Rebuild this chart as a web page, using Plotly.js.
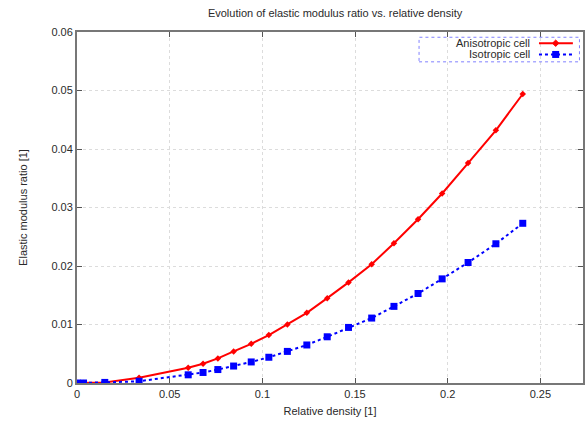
<!DOCTYPE html>
<html>
<head>
<meta charset="utf-8">
<script src="https://cdn.plot.ly/plotly-3.0.1.min.js"></script>
<style>html,body{margin:0;padding:0;background:#fff;}#chart{width:587px;height:421px;}</style>
</head>
<body>
<div id="chart"></div>
<script>
const relativeDensity = [0, 0.0035, 0.015, 0.0335, 0.06, 0.068, 0.076, 0.0845, 0.094, 0.1035, 0.1135, 0.124, 0.135, 0.1465, 0.159, 0.171, 0.184, 0.197, 0.211, 0.226, 0.2405];
const anisotropic = [0, 0, 0.0001, 0.0009, 0.0026, 0.0033, 0.0042, 0.0054, 0.0067, 0.0082, 0.0100, 0.0120, 0.0145, 0.0172, 0.0203, 0.0239, 0.0280, 0.0324, 0.0376, 0.0432, 0.0494];
const isotropic = [0, 0, 0.0001, 0.0003, 0.0014, 0.0018, 0.0023, 0.0029, 0.0036, 0.0044, 0.0054, 0.0065, 0.0079, 0.0095, 0.0111, 0.0131, 0.0153, 0.0178, 0.0206, 0.0238, 0.0273];
const seriesNames = ["Anisotropic cell", "Isotropic cell"];
const xTicks = [0, 0.05, 0.1, 0.15, 0.2, 0.25];
const xTickLabels = ["0", "0.05", "0.1", "0.15", "0.2", "0.25"];
const yTicks = [0, 0.01, 0.02, 0.03, 0.04, 0.05, 0.06];
const yTickLabels = ["0", "0.01", "0.02", "0.03", "0.04", "0.05", "0.06"];

const FONT = "Liberation Sans, Arial, sans-serif";
const TXT = "#2a2a2a";
const traces = [
  {x: relativeDensity, y: anisotropic, name: seriesNames[0], mode: "lines+markers",
   line: {color: "#ff0000", width: 2},
   marker: {symbol: "diamond", size: 5, color: "#ff0000"}},
  {x: relativeDensity, y: isotropic, name: seriesNames[1], mode: "lines+markers",
   line: {color: "#0000ff", width: 2, dash: "dot"},
   marker: {symbol: "square", size: 7, color: "#0000ff"}}
];

const axisCommon = {
  showline: true, linecolor: "#777", linewidth: 2, mirror: "ticks",
  ticks: "inside", ticklen: 5, tickwidth: 1, tickcolor: "#555",
  showgrid: true, gridcolor: "#dcdcdc", griddash: "dot", gridwidth: 1,
  zeroline: false, tickfont: {family: FONT, size: 11, color: TXT}
};

// gnuplot-style key: text on the left, sample on the right
const keyX0 = 0.676, keyX1 = 0.993, keyY0 = 0.915, keyY1 = 0.985;
const rowY = [0.968, 0.936];
const sampleX0 = 0.913, sampleX1 = 0.980, markX = 0.946, textX = 0.899;
const sqW = 3.5 / 506, sqH = 3.5 / 351, dmW = 3.2 / 506, dmH = 3.2 / 351;

const layout = {
  width: 587, height: 421,
  margin: {l: 77, r: 4, t: 32, b: 38},
  paper_bgcolor: "#fff", plot_bgcolor: "#fff",
  showlegend: false,
  font: {family: FONT, size: 11, color: TXT},
  title: {text: "Evolution of elastic modulus ratio vs. relative density",
          font: {family: FONT, size: 11, color: TXT},
          xref: "paper", x: 0.51, xanchor: "center",
          yref: "container", y: 1 - 13/421, yanchor: "middle"},
  xaxis: Object.assign({}, axisCommon, {
    range: [0, 0.273], tickvals: xTicks, ticktext: xTickLabels,
    title: {text: "Relative density [1]", font: {family: FONT, size: 11, color: TXT}, standoff: 8}
  }),
  yaxis: Object.assign({}, axisCommon, {
    range: [0, 0.06], tickvals: yTicks, ticktext: yTickLabels,
    title: {text: "Elastic modulus ratio [1]", font: {family: FONT, size: 11, color: TXT}, standoff: 22}
  }),
  shapes: [
    {type: "rect", xref: "paper", yref: "paper", x0: keyX0, x1: keyX1, y0: keyY0, y1: keyY1,
     line: {color: "#8080ff", width: 1, dash: "dot"}, fillcolor: "rgba(0,0,0,0)"},
    {type: "line", xref: "paper", yref: "paper", x0: sampleX0, x1: sampleX1, y0: rowY[0], y1: rowY[0],
     line: {color: "#ff0000", width: 2}},
    {type: "path", xref: "paper", yref: "paper",
     path: "M" + (markX - dmW) + "," + rowY[0] + " L" + markX + "," + (rowY[0] + dmH) +
           " L" + (markX + dmW) + "," + rowY[0] + " L" + markX + "," + (rowY[0] - dmH) + " Z",
     fillcolor: "#ff0000", line: {color: "#ff0000", width: 1}},
    {type: "line", xref: "paper", yref: "paper", x0: sampleX0, x1: sampleX1, y0: rowY[1], y1: rowY[1],
     line: {color: "#0000ff", width: 2, dash: "dot"}},
    {type: "rect", xref: "paper", yref: "paper", x0: markX - sqW, x1: markX + sqW,
     y0: rowY[1] - sqH, y1: rowY[1] + sqH, fillcolor: "#0000ff", line: {color: "#0000ff", width: 0}}
  ],
  annotations: [
    {text: seriesNames[0], xref: "paper", yref: "paper", x: textX, y: rowY[0], xanchor: "right", yanchor: "middle",
     showarrow: false, font: {family: FONT, size: 11, color: TXT}},
    {text: seriesNames[1], xref: "paper", yref: "paper", x: textX, y: rowY[1], xanchor: "right", yanchor: "middle",
     showarrow: false, font: {family: FONT, size: 11, color: TXT}}
  ]
};

Plotly.newPlot("chart", traces, layout, {displayModeBar: false, staticPlot: true});
</script>
</body>
</html>
